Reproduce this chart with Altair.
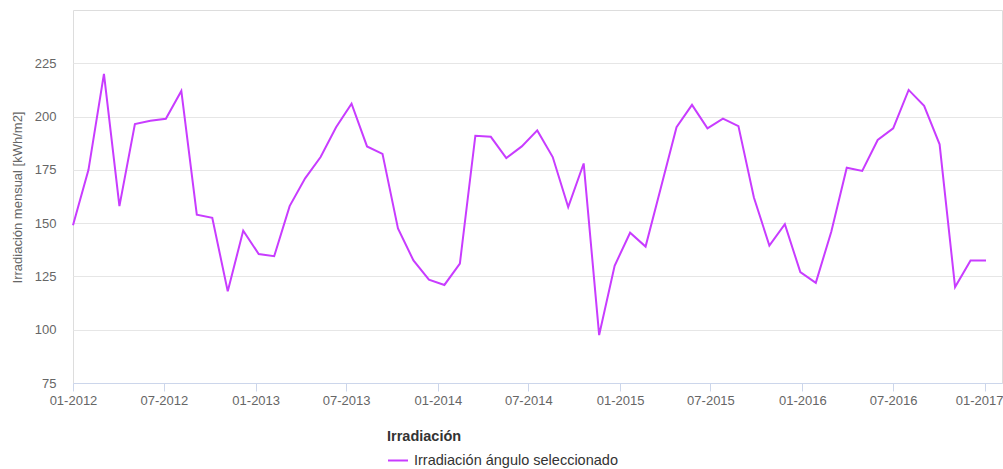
import altair as alt
import pandas as pd

# Monthly irradiation on the selected panel angle (kWh/m2), one sample every 31 days from Jan 2012
start_date = "2012-01-01"
n_samples = 60
irradiacion = [
    149, 175, 220, 158, 196.5, 198, 199, 212, 154, 152.5,
    118, 146.5, 135.5, 134.5, 158, 171, 181, 195, 206, 186,
    182.5, 147.5, 132.5, 123.5, 121, 131, 191, 190.5, 180.5, 186,
    193.5, 181, 157.5, 178, 97.5, 130, 145.5, 139, 167, 195,
    205.5, 194.5, 199, 195.5, 162, 139.5, 149.5, 127, 122, 146,
    176, 174.5, 189, 194.5, 212.5, 205, 187, 120, 132.5, 132.5,
]
serie = "Irradiación ángulo seleccionado"

# Axis ticks: every six months, and the y labels
x_tick_months = [(2012, 1), (2012, 7), (2013, 1), (2013, 7), (2014, 1), (2014, 7),
                 (2015, 1), (2015, 7), (2016, 1), (2016, 7), (2017, 1)]
y_ticks = [75, 100, 125, 150, 175, 200, 225]
y_domain = [75, 250]

fechas = pd.date_range(start_date, periods=n_samples, freq="31D")
df = pd.DataFrame({"fecha": fechas, "valor": irradiacion, "serie": serie})

FONT = "Liberation Sans"
LINE_COLOR = "#c83cff"

chart = (
    alt.Chart(df)
    .mark_line(strokeWidth=2, interpolate="linear")
    .encode(
        x=alt.X(
            "fecha:T",
            scale=alt.Scale(
                domain=[alt.DateTime(year=2012, month=1, date=1),
                        alt.DateTime(year=2017, month=2, date=4)],
                nice=False,
            ),
            axis=alt.Axis(
                title=None,
                values=[alt.DateTime(year=y, month=m, date=1) for y, m in x_tick_months],
                format="%m-%Y",
                grid=False,
                domainColor="#ccd6eb",
                tickColor="#ccd6eb",
                tickSize=8,
                labelPadding=3,
                # the last label is nudged left so it stays inside the chart
                labelOffset={"condition": {"test": "datum.index === 1", "value": -6}, "value": 0},
                labelFont=FONT,
                labelFontSize=13,
                labelColor="#666666",
                labelFlush=False,
                labelOverlap=False,
            ),
        ),
        y=alt.Y(
            "valor:Q",
            scale=alt.Scale(domain=y_domain, nice=False, zero=False),
            axis=alt.Axis(
                title="Irradiación mensual [kWh/m2]",
                values=y_ticks,
                domain=False,
                ticks=False,
                labelPadding=17,
                labelFont=FONT,
                labelFontSize=13,
                labelColor="#666666",
                gridColor="#e6e6e6",
                gridWidth=1,
                titleFont=FONT,
                titleFontSize=13,
                titleFontWeight="normal",
                titleColor="#666666",
                titleAngle=-90,
                titleAlign="center",
                titleBaseline="middle",
                titleX=-56,
                titleY=187,
            ),
        ),
        color=alt.Color(
            "serie:N",
            scale=alt.Scale(domain=[serie], range=[LINE_COLOR]),
            legend=alt.Legend(
                title="Irradiación",
                orient="none",
                legendX=314,
                legendY=420,
                symbolType="stroke",
                symbolStrokeWidth=2,
                symbolSize=400,
                labelOffset=5,
                labelLimit=400,
                titleFont=FONT,
                titleFontSize=14.5,
                titleFontWeight="bold",
                titleColor="#333333",
                titlePadding=5,
                labelFont=FONT,
                labelFontSize=14.5,
                labelColor="#333333",
            ),
        ),
    )
    .properties(
        width=929,
        height=373,
        padding={"left": 73, "top": 10, "right": 1, "bottom": 86},
        autosize=alt.AutoSizeParams(type="none"),
    )
    .configure_view(stroke="#e6e6e6", strokeWidth=1)
    .configure(background="white")
)

chart.save("out.html", embed_options={"renderer": "svg", "actions": False})
